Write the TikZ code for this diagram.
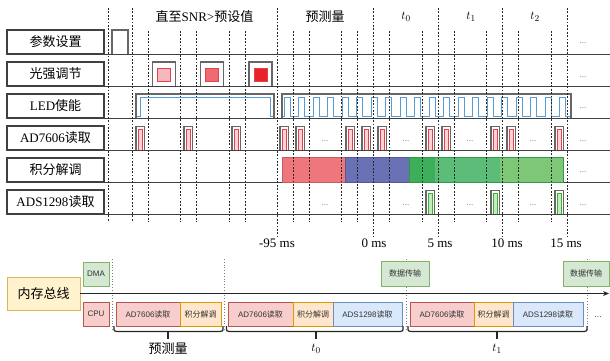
\documentclass[tikz,border=0pt]{standalone}
\usepackage{fontspec}
\setmainfont{Liberation Serif}
\newfontfamily\cjk{Noto Sans CJK SC}
\newfontfamily\lsans{Liberation Sans}
\usetikzlibrary{arrows.meta}
\definecolor{ledblue}{HTML}{5B9BD5}
\definecolor{pred}{HTML}{E8404A}
\definecolor{ppink}{HTML}{FAD4D6}
\definecolor{pgreen}{HTML}{3FAE3A}
\definecolor{plgreen}{HTML}{C4EABD}
\definecolor{lone}{HTML}{F7B8BD}
\definecolor{ltwo}{HTML}{EF6A72}
\definecolor{lthree}{HTML}{E82228}
\definecolor{bred}{HTML}{EF777C}
\definecolor{bblue}{HTML}{6A71B5}
\definecolor{bgone}{HTML}{3DAF5B}
\definecolor{bgtwo}{HTML}{5CBD79}
\definecolor{bgthree}{HTML}{7DC776}
\definecolor{dmaf}{HTML}{D5E8D4}\definecolor{dmad}{HTML}{82B366}
\definecolor{cpuf}{HTML}{F8CECC}\definecolor{cpud}{HTML}{B85450}
\definecolor{intf}{HTML}{FFE6CC}\definecolor{intd}{HTML}{D79B00}
\definecolor{adsf}{HTML}{DAE8FC}\definecolor{adsd}{HTML}{6C8EBF}
\definecolor{memf}{HTML}{FFF2CC}\definecolor{memd}{HTML}{D6B656}
\begin{document}
\begin{tikzpicture}[x=1pt,y=-1pt,
  lbl/.style={draw=black!75, line width=1.1pt, fill=white, minimum width=97pt, minimum height=24pt, inner sep=0pt, font=\fontsize{13}{15}\selectfont},
  gridline/.style={black!75, line width=0.9pt},
  vd/.style={black!85, line width=0.8pt, dash pattern=on 1.8pt off 1.6pt},
  gbox/.style={draw=black!60, line width=1.1pt},
  rp/.style={draw=pred, fill=ppink, line width=0.8pt},
  gp/.style={draw=pgreen, fill=plgreen, line width=0.9pt},
  led/.style={draw=ledblue, line width=0.9pt},
  dots/.style={text=black!50, font=\fontsize{9}{9}\selectfont, inner sep=0pt},
  tlab/.style={font=\fontsize{13}{15}\selectfont, inner sep=0pt},
  blk/.style={draw, line width=0.8pt, minimum height=24pt, inner sep=0pt, font=\lsans\fontsize{8}{9}\selectfont, text=black!80},
  bdot/.style={black!50, line width=0.8pt, dotted},
  brc/.style={black!85, line width=1.2pt}
]
\useasboundingbox (0,0) rectangle (610,360);

% ---- row labels and baselines
\node[lbl] (r1) at (55.5,42) {\cjk 参数设置};
\node[lbl] (r2) at (55.5,74) {\cjk 光强调节};
\node[lbl] (r3) at (55.5,106) {LED{\cjk 使能}};
\node[lbl] (r4) at (55.5,138) {AD7606{\cjk 读取}};
\node[lbl] (r5) at (55.5,170) {\cjk 积分解调};
\node[lbl] (r6) at (55.5,202) {ADS1298{\cjk 读取}};
\foreach \r in {1,...,6} \draw[gridline] (r\r.south east) -- +(506,0);

% ---- parameter setting
\draw[gbox] (112,54) -- (112,30) -- (128,30) -- (128,54);

% ---- light intensity
\foreach \c/\col in {164/lone,212/ltwo,260.5/lthree}{
  \draw[gbox] (\c-11.5,86) -- (\c-11.5,62) -- (\c+11.5,62) -- (\c+11.5,86);
  \draw[draw=pred, fill=\col, line width=0.7pt] (\c-6.5,68) rectangle (\c+6.5,81);
}

% ---- LED enable
\draw[gbox] (136,118) -- (136,94) -- (274,94) -- (274,118);
\draw[led] (136.8,116.5) -- (140,116.5) -- (140,97.5) -- (270,97.5) -- (270,116.5) -- (273.2,116.5);
\draw[gbox] (282,118) -- (282,94) -- (571,94) -- (571,118);
\draw[led] (282.8,116.5) \foreach \k in {0,...,19}{ -- ({284+14.5*\k},116.5) -- ({284+14.5*\k},97.5) -- ({290+14.5*\k},97.5) -- ({290+14.5*\k},116.5) } -- (570.2,116.5);

% ---- AD7606 pulses
\foreach \x in {136,184,232,280,296,346,362,378,426,442,491,507,555}{
  \draw[gbox] (\x,150) -- (\x,126.5) -- (\x+8.5,126.5) -- (\x+8.5,150);
  \draw[rp] (\x+2.3,150) -- (\x+2.3,129.5) -- (\x+6.2,129.5) -- (\x+6.2,150);
}

% ---- demodulation bars
\fill[bred] (282,157.5) rectangle (345,182);
\fill[bblue] (345,157.5) rectangle (409,182);
\fill[bgone] (409,157.5) rectangle (435,182);
\fill[bgtwo] (435,157.5) rectangle (500,182);
\fill[bgthree] (500,157.5) rectangle (563,182);
\draw[bred!80!black, line width=0.4pt] (282,157.5) rectangle (345,182);
\draw[bblue!80!black, line width=0.4pt] (345,157.5) rectangle (409,182);
\draw[bgone!85!black, line width=0.4pt] (409,157.5) rectangle (563,182);

% ---- ADS1298 pulses
\foreach \x in {426,491,555}{
  \draw[gbox] (\x,214) -- (\x,190.5) -- (\x+8.5,190.5) -- (\x+8.5,214);
  \draw[gp] (\x+2.4,214) -- (\x+2.4,193.5) -- (\x+6.1,193.5) -- (\x+6.1,214);
}

% ---- dots
\foreach \y [count=\i] in {43,77,108,141,172,205}{
  \node[dots] (de\i) at (583,\y) {...};
}
\foreach \x [count=\i] in {325,406,470,533}{
  \node[dots] (da\i) at (\x,141) {...};
  \node[dots] (db\i) at (\x,205) {...};
}

% ---- dashed time lines
\foreach \x/\t/\b in {108/8/222,132/8/222,148/31/222,180/31/222,196/31/222,229/31/222,245/31/222,277/8/236,293/31/222,309/31/222,341/31/222,357/31/222,373/8/236,389/31/222,422/31/222,438/8/236,454/31/222,486/31/222,502/8/236,518/31/222,551/31/222,567/8/236}{
  \draw[vd] (\x,\t) -- (\x,\b);
}

% ---- top labels
\node[tlab] (h1) at (204.5,17) {{\cjk 直至}SNR>{\cjk 预设值}};
\node[tlab] (h2) at (325,17) {\cjk 预测量};
\node[tlab] (h3) at (406,17) {$t_0$};
\node[tlab] (h4) at (471,17) {$t_1$};
\node[tlab] (h5) at (535,17) {$t_2$};

% ---- time labels
\node[tlab] (m1) at (277,243) {-95 ms};
\node[tlab] (m2) at (374,243) {0 ms};
\node[tlab] (m3) at (440,243) {5 ms};
\node[tlab] (m4) at (507,243) {10 ms};
\node[tlab] (m5) at (566,243) {15 ms};

% ---- memory bus section
\foreach \x [count=\i] in {112,224,406,587}{
  \coordinate (ua\i) at (\x,259);
  \coordinate (ub\i) at (\x,331);
  \draw[bdot] (ua\i) -- (ub\i);
}
\node[draw=memd, fill=memf, line width=0.9pt, minimum width=73pt, minimum height=33pt, inner sep=0pt, font=\fontsize{13}{15}\selectfont] (mem) at (43.5,293.5) {\cjk 内存总线};
\coordinate (busend) at (609,293.5);
\draw[black!85, line width=1.2pt, -{Stealth[length=6pt,width=5pt]}] (mem.east) -- (busend);
\node[blk, draw=dmad, fill=dmaf, minimum width=26pt] (dma) at (96,274) {DMA};
\node[blk, draw=cpud, fill=cpuf, minimum width=26pt] (cpu) at (96,314) {CPU};

\node[blk, draw=cpud, fill=cpuf, minimum width=64pt] (a1) at (148,314) {AD7606{\cjk 读取}};
\node[blk, draw=intd, fill=intf, minimum width=41pt] (i1) at (200.5,314) {\cjk 积分解调};
\node[blk, draw=cpud, fill=cpuf, minimum width=65pt] (a2) at (260.5,314) {AD7606{\cjk 读取}};
\node[blk, draw=intd, fill=intf, minimum width=40pt] (i2) at (313,314) {\cjk 积分解调};
\node[blk, draw=adsd, fill=adsf, minimum width=69pt] (s2) at (367.5,314) {ADS1298{\cjk 读取}};
\node[blk, draw=cpud, fill=cpuf, minimum width=64pt] (a3) at (442,314) {AD7606{\cjk 读取}};
\node[blk, draw=intd, fill=intf, minimum width=39pt] (i3) at (493.5,314) {\cjk 积分解调};
\node[blk, draw=adsd, fill=adsf, minimum width=70pt] (s3) at (548,314) {ADS1298{\cjk 读取}};
\node[dots, font=\fontsize{10}{10}\selectfont, text=black!60] (dz) at (598,317) {...};

\node[blk, draw=dmad, fill=dmaf, minimum width=48pt, minimum height=25pt] (dt1) at (405,273.5) {\cjk 数据传输};
\node[blk, draw=dmad, fill=dmaf, minimum width=46pt, minimum height=25pt] (dt2) at (586,273.5) {\cjk 数据传输};

% ---- braces
\foreach \l/\r/\m in {114/223/168, 226.5/403/316, 408/587/497}{
  \draw[brc] (\l,326) .. controls (\l,331.5) .. (\l+3,331.5) -- (\r-3,331.5) .. controls (\r,331.5) .. (\r,326);
  \draw[brc] (\m,331.5) -- (\m,339);
}
\node[tlab] (b1) at (168,349) {\cjk 预测量};
\node[tlab] (b2) at (316,349) {$t_0$};
\node[tlab] (b3) at (497,349) {$t_1$};
\end{tikzpicture}
\end{document}
